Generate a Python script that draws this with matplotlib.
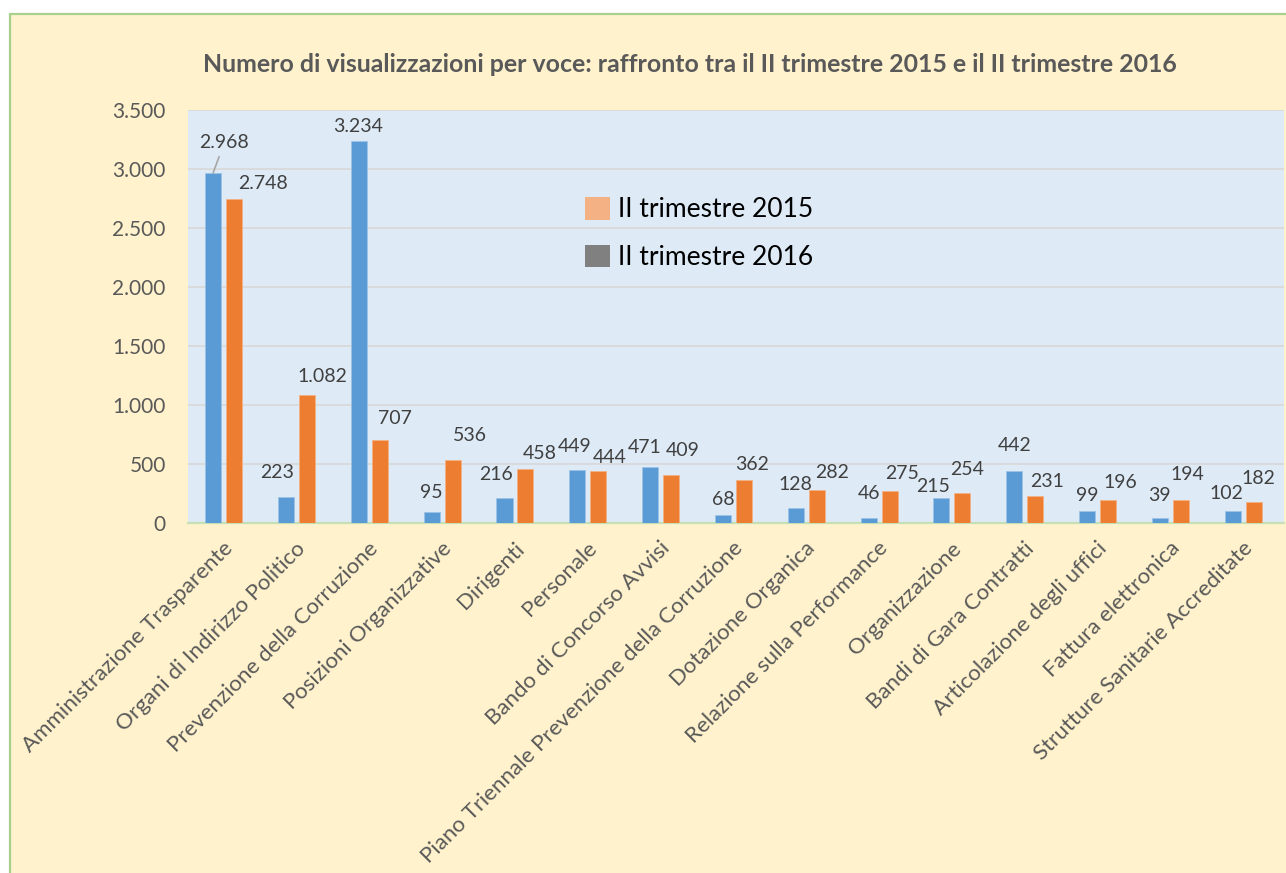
import matplotlib
matplotlib.use("Agg")
import matplotlib.pyplot as plt
import matplotlib.transforms as mtransforms
from matplotlib.patches import Rectangle, Patch
import numpy as np

# Dati
categorie = [
    "Amministrazione Trasparente", "Organi di Indirizzo Politico",
    "Prevenzione della Corruzione", "Posizioni Organizzative", "Dirigenti",
    "Personale", "Bando di Concorso Avvisi",
    "Piano Triennale Prevenzione della Corruzione", "Dotazione Organica",
    "Relazione sulla Performance", "Organizzazione", "Bandi di Gara Contratti",
    "Articolazione degli uffici", "Fattura elettronica",
    "Strutture Sanitarie Accreditate",
]
valori_2016 = [2968, 223, 3234, 95, 216, 449, 471, 68, 128, 46, 215, 442, 99, 39, 102]
valori_2015 = [2748, 1082, 707, 536, 458, 444, 409, 362, 282, 275, 254, 231, 196, 194, 182]
yticks = [0, 500, 1000, 1500, 2000, 2500, 3000, 3500]

titolo = ("Numero di visualizzazioni per voce: raffronto tra il II trimestre 2015 "
          "e il II trimestre 2016")

# Spostamento etichette (pixel: dx, distanza sopra la barra)
off_2016 = [(11, 30), (-9, 24), (-1, 15), (0, 19), (-8, 23), (-3, 24), (-5, 20), (0, 15),
            (0, 23), (0, 24), (-8, 11), (0, 25), (0, 16), (0, 23), (-6, 17)]
off_2015 = [(29, 15), (15, 19), (15, 21), (17, 24), (14, 15), (11, 13), (12, 24), (8, 16),
            (15, 17), (12, 17), (5, 24), (12, 14), (12, 17), (6, 26), (5, 23)]

BLU = "#5B9BD5"
ARANCIO = "#ED7D31"
FONT = "Lato"

W, H = 1286, 873
fig = plt.figure(figsize=(W / 100, H / 100), dpi=100)
fig.patch.set_facecolor("white")

# Sfondo giallo con bordo verde
sfondo = Rectangle((10 / W, -0.02), 1.05, (H - 14) / H + 0.02,
                   transform=fig.transFigure, facecolor="#FFF2CC",
                   edgecolor="#A9D18E", linewidth=1.6)
sfondo.set_zorder(-10)
fig.add_artist(sfondo)

ax = fig.add_axes([188 / W, (H - 523) / H, 1096 / W, 413 / H])
ax.set_facecolor("#DEEBF7")

x = np.arange(len(categorie))
off = 0.144
larg = 0.22
ax.bar(x - off, valori_2016, width=larg, color=BLU, edgecolor="#9DC3E6",
       linewidth=0.6, zorder=3)
ax.bar(x + off, valori_2015, width=larg, color=ARANCIO, edgecolor="#F4B183",
       linewidth=0.6, zorder=3)

# Etichette dei valori
def fmt(v):
    return f"{int(v):,}".replace(",", ".")

for i in range(len(categorie)):
    dx, dy = off_2016[i]
    kw = {}
    if i == 0:
        kw = dict(arrowprops=dict(arrowstyle="-", color="#A6A6A6", lw=1.2,
                                  shrinkA=2, shrinkB=0))
    ax.annotate(fmt(valori_2016[i]), xy=(x[i] - off, valori_2016[i]),
                xytext=(dx, dy), textcoords="offset pixels", ha="center",
                va="center", fontsize=14, color="#404040", family=FONT,
                zorder=4, **kw)
    dx, dy = off_2015[i]
    ax.annotate(fmt(valori_2015[i]), xy=(x[i] + off, valori_2015[i]),
                xytext=(dx, dy), textcoords="offset pixels", ha="center",
                va="center", fontsize=14, color="#404040", family=FONT, zorder=4)

ax.set_xlim(-0.49, 14.56)
ax.set_ylim(0, 3500)
ax.set_yticks(yticks)
ax.set_yticklabels([fmt(v) for v in yticks], fontsize=15, color="#595959",
                   family=FONT)
ax.yaxis.grid(True, color="#D9D9D9", linewidth=1.3, zorder=0)
ax.set_axisbelow(True)
ax.tick_params(axis="y", length=0, pad=16)
ax.tick_params(axis="x", length=0, pad=16)

ax.set_xticks(x)
ax.set_xticklabels(categorie, rotation=45, ha="right", va="center",
                   rotation_mode="anchor", fontsize=16, color="#595959",
                   family=FONT)
# piccolo spostamento a destra delle etichette
sposta = mtransforms.ScaledTranslation(6 / 100, 0, fig.dpi_scale_trans)
for lab in ax.get_xticklabels():
    lab.set_transform(lab.get_transform() + sposta)

for s in ["top", "left", "right"]:
    ax.spines[s].set_visible(False)
ax.spines["bottom"].set_color("#C5E0B4")
ax.spines["bottom"].set_linewidth(1.6)

# Legenda
maniglie = [Patch(facecolor="#F4B183"), Patch(facecolor="#808080")]
ax.legend(maniglie, ["II trimestre 2015", "II trimestre 2016"],
          loc="upper left", bbox_to_anchor=(561 / W, (H - 173) / H),
          bbox_transform=fig.transFigure, frameon=False,
          prop=dict(family=FONT, size=19), handlelength=0.95, handleheight=0.95,
          handletextpad=0.3, labelspacing=0.85, labelcolor="#000000")

fig.text(690 / W, (H - 64) / H, titolo, ha="center", va="center",
         fontsize=17.9, fontweight="bold", color="#595959", family=FONT)

fig.savefig("out.png", dpi=100, facecolor=fig.get_facecolor())
